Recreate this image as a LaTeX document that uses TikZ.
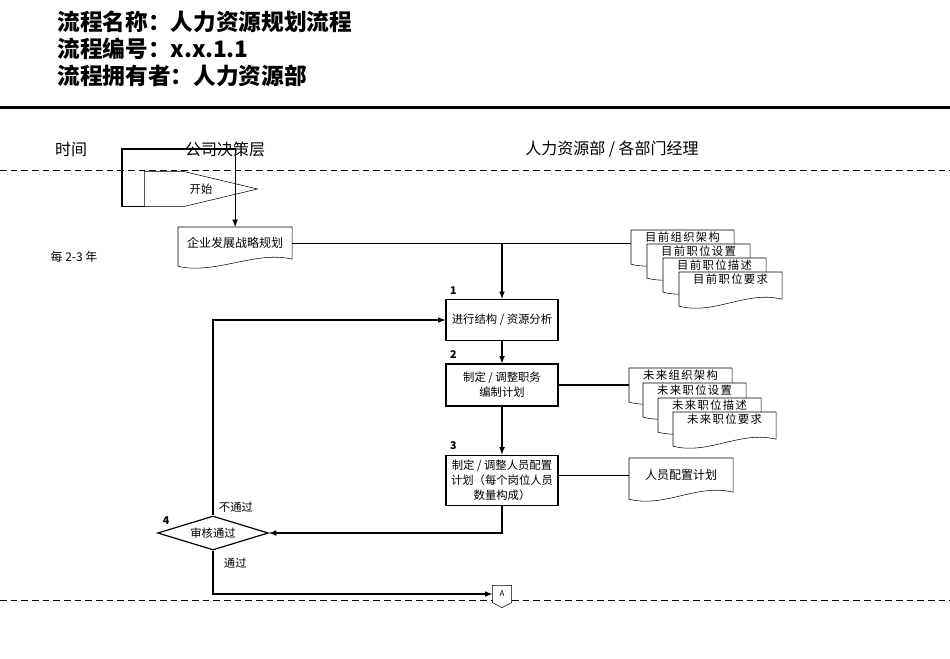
\documentclass[tikz,border=0pt]{standalone}
\usepackage{fontspec}
\setmainfont{Noto Sans CJK SC}
\usetikzlibrary{positioning,calc,shapes.geometric,backgrounds}

% outline of a document shape with a wavy bottom
\newcommand\docpath[1]{%
  \draw[fill=white] (#1.north east) -- (#1.north west) -- ($(#1.south west)+(0,7)$)
    .. controls +(36,9) and +(-36,-9) .. (#1.south east) -- cycle;}

\begin{document}
\begin{tikzpicture}[x=0.75pt, y=-0.75pt, line width=0.9pt, >=latex,
                    heading/.style = {anchor=west,
                                      inner sep=0pt,
                                      font=\fontsize{17}{20}\selectfont\bfseries},
                    lane/.style = {inner sep=1pt,
                                   font=\fontsize{12}{14}\selectfont},
                    txt/.style = {inner sep=1pt,
                                  font=\fontsize{8.5}{10}\selectfont},
                    box/.style = {draw,
                                  fill=white,
                                  align=center,
                                  minimum width=84pt,
                                  inner sep=1pt,
                                  font=\fontsize{8.5}{11.25}\selectfont},
                    bigdoc/.style = {anchor=north west,
                                     align=center,
                                     inner sep=1pt,
                                     font=\fontsize{9}{11}\selectfont},
                    doc/.style = {anchor=north west,
                                  minimum width=76.5pt,
                                  inner sep=1pt,
                                  text height=7.5pt,
                                  text depth=10pt,
                                  font=\fontsize{8.5}{10}\selectfont\addfontfeature{LetterSpace=12}},
                    decision/.style = {diamond,
                                       draw,
                                       fill=white,
                                       aspect=3.3,
                                       inner sep=0pt,
                                       minimum width=83pt,
                                       minimum height=25.5pt,
                                       font=\fontsize{8.5}{10}\selectfont},
                    num/.style = {inner sep=1pt,
                                  font=\fontsize{8}{9}\selectfont\bfseries},
                    startbox/.style = {minimum width=84pt,
                                       minimum height=25.5pt,
                                       inner sep=0pt,
                                       font=\fontsize{8.5}{10}\selectfont},
                    conn/.style = {minimum width=13.5pt,
                                   minimum height=12pt,
                                   inner sep=0pt,
                                   font=\fontsize{6}{7}\selectfont},
                    laneline/.style = {dash pattern=on 5pt off 3pt,
                                       line width=0.75pt},
                    arr/.style = {->}]

\useasboundingbox (0,0) rectangle (950,658);

% title block
\node[heading] (name)  at (57,22) {流程名称：人力资源规划流程};
\node[heading] (code)  at (57,49) {流程编号：x.x.1.1};
\node[heading] (owner) at (57,76) {流程拥有者：人力资源部};

% lane headers
\node[lane] (time)  at (71,149)  {时间};
\node[lane] (board) at (225,149) {公司决策层};
\node[lane] (hr)    at (612,149) {人力资源部 / 各部门经理};
\node[txt, font=\fontsize{9}{10}\selectfont] (period) at (74,257) {每 2-3 年};

% steps
\node[startbox] (start) at (201,189) {开始};
\coordinate (turn) at (122,149);
\node[bigdoc, minimum width=84.75pt, minimum height=23.25pt] (strat) at (178,227) {企业发展战略规划};

\node[doc] (cur1) at (631,230) {目前组织架构};
\node[doc] (cur2) at (647,244) {目前职位设置};
\node[doc] (cur3) at (663,258) {目前职位描述};
\node[doc] (cur4) at (679,272) {目前职位要求};

\node[box, minimum height=30.75pt] (box1) at (502,320) {进行结构 / 资源分析};
\node[box, minimum height=31.5pt]  (box2) at (502,385) {制定 / 调整职务\\编制计划};
\node[box, minimum height=38pt]    (box3) at (502,480.5) {制定 / 调整人员配置\\计划（每个岗位人员\\数量构成）};

\node[num, above right=2pt and 2pt of box1.north west] (n1) {1};
\node[num, above right=2pt and 2pt of box2.north west] (n2) {2};
\node[num, above right=2pt and 2pt of box3.north west] (n3) {3};

\node[doc] (fut1) at (629,368) {未来组织架构};
\node[doc] (fut2) at (643,383) {未来职位设置};
\node[doc] (fut3) at (658,398) {未来职位描述};
\node[doc] (fut4) at (673,412) {未来职位要求};

\node[bigdoc, minimum width=77.25pt, minimum height=24.75pt] (plan) at (629,458) {人员配置计划};

\node[decision] (check) at (213,533) {审核通过};
\node[num] (n4) at ($(check.west)+(9,-12)$) {4};
\node[txt, anchor=south west] (fail) at ($(check.north)+(4,-1)$) {不通过};
\node[txt, anchor=north west] (pass) at ($(check.south)+(9,5)$) {通过};

\node[conn] (conA) at (502,594) {A};

% outlines behind the texts
\begin{scope}[on background layer]
  \draw[line width=2.25pt] (0,107) -- (950,107);
  \draw[laneline] (0,170) -- (950,170);
  \draw[laneline] (0,600) -- (950,600);
  \draw[fill=white] (start.north west) -- ($(start.north west)+(39,0)$) -- (start.east)
        -- ($(start.south west)+(39,0)$) -- (start.south west) -- cycle;
  \docpath{strat}
  \docpath{cur1} \docpath{cur2} \docpath{cur3} \docpath{cur4}
  \docpath{fut1} \docpath{fut2} \docpath{fut3} \docpath{fut4}
  \docpath{plan}
  \draw[fill=white] (conA.north west) -- (conA.north east) -- (conA.south east)
        -- ($(conA.south)+(0,5)$) -- (conA.south west) -- cycle;
\end{scope}

% connectors
\draw[arr] (start.south west) -| (turn) -| (strat.north);
\draw (strat.east) -- (strat.east -| cur1.west);
\draw[arr] (strat.east -| box1.north) -- (box1.north);
\path (box1) edge[arr] (box2);
\path (box2) edge[arr] (box3);
\draw (box2.east) -- (box2.east -| fut1.west);
\draw (plan.west) -- (plan.west -| box3.east);
\draw[arr] (box3.south) |- (check.east);
\draw[arr] (check.north) |- (box1.west);
\draw[arr] (check.south) |- (conA.west);

\end{tikzpicture}
\end{document}
